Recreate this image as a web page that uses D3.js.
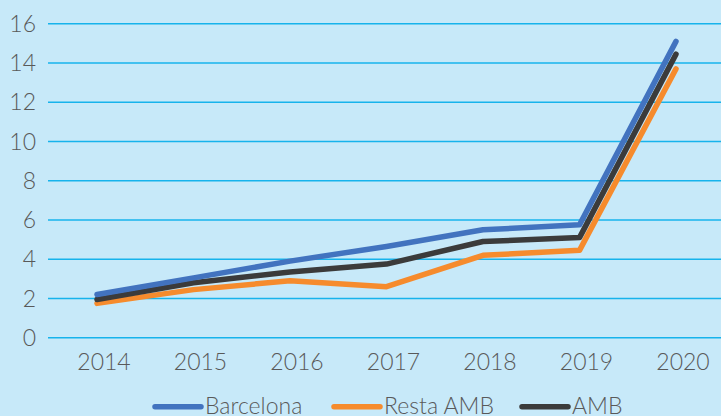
<!DOCTYPE html>
<html>
<head>
<meta charset="utf-8">
<script src="https://cdn.jsdelivr.net/npm/d3@7"></script>
<style>
  html, body { margin: 0; padding: 0; background: #c7e9f9; }
  svg { display: block; }
  text { font-family: Lato, "Open Sans", sans-serif; font-weight: 300; fill: #595959; }
</style>
</head>
<body>
<svg id="chart"></svg>
<script>
// data
var years = ["2014", "2015", "2016", "2017", "2018", "2019", "2020"]
var barcelona = [2.2, 3.05, 3.9, 4.65, 5.5, 5.75, 15.1]
var restaAMB = [1.75, 2.45, 2.9, 2.6, 4.2, 4.45, 13.7]
var amb = [1.95, 2.8, 3.35, 3.75, 4.9, 5.1, 14.45]
var yTicks = [0, 2, 4, 6, 8, 10, 12, 14, 16]

var series = [
    {name: "Barcelona", values: barcelona, color: "#4273bf"},
    {name: "Resta AMB", values: restaAMB, color: "#f68b2d"},
    {name: "AMB", values: amb, color: "#3b3b3b"}
]

var dimensions = {
    width: 721,
    height: 416,
    margin: {
        top: 23.7,
        bottom: 78.3,
        right: 0,
        left: 48
    }
}

var svg = d3.select("#chart")
    .attr("width", dimensions.width)
    .attr("height", dimensions.height)

var xScale = d3.scalePoint()
    .domain(years)
    .range([97, 676])

var yScale = d3.scaleLinear()
    .domain([0, 16])
    .range([dimensions.height - dimensions.margin.bottom, dimensions.margin.top])

// gridlines
svg.append("g")
    .selectAll("line")
    .data(yTicks)
    .enter()
    .append("line")
    .attr("x1", dimensions.margin.left)
    .attr("x2", dimensions.width)
    .attr("y1", d => yScale(d))
    .attr("y2", d => yScale(d))
    .attr("stroke", "#17b3ec")
    .attr("stroke-width", 1.4)

// y labels
svg.append("g")
    .selectAll("text")
    .data(yTicks)
    .enter()
    .append("text")
    .attr("x", 36)
    .attr("y", d => yScale(d))
    .attr("dy", "0.36em")
    .attr("text-anchor", "end")
    .style("font-size", "23px")
    .text(d => d)

// x labels
svg.append("g")
    .selectAll("text")
    .data(years)
    .enter()
    .append("text")
    .attr("x", d => xScale(d) + 7)
    .attr("y", 370)
    .attr("text-anchor", "middle")
    .style("font-size", "23px")
    .text(d => d)

var line = d3.line()
    .x((d, i) => xScale(years[i]))
    .y(d => yScale(d))

// draw back to front: orange, black, blue on top
svg.append("g")
    .selectAll("path")
    .data([series[1], series[2], series[0]])
    .enter()
    .append("path")
    .attr("d", d => line(d.values))
    .attr("fill", "none")
    .attr("stroke", d => d.color)
    .attr("stroke-width", 5.5)
    .attr("stroke-linecap", "round")
    .attr("stroke-linejoin", "round")

// legend (sits at the very bottom, clipped like the original)
var legendX = [155, 334, 522]
var legend = svg.append("g")
    .selectAll("g")
    .data(series)
    .enter()
    .append("g")
    .attr("transform", (d, i) => "translate(" + legendX[i] + ",0)")

legend.append("line")
    .attr("x1", 0)
    .attr("x2", 46)
    .attr("y1", 406.7)
    .attr("y2", 406.7)
    .attr("stroke", d => d.color)
    .attr("stroke-width", 5.5)
    .attr("stroke-linecap", "round")

legend.append("text")
    .attr("x", 50)
    .attr("y", 413.5)
    .style("font-size", "23px")
    .text(d => d.name)
</script>
</body>
</html>
